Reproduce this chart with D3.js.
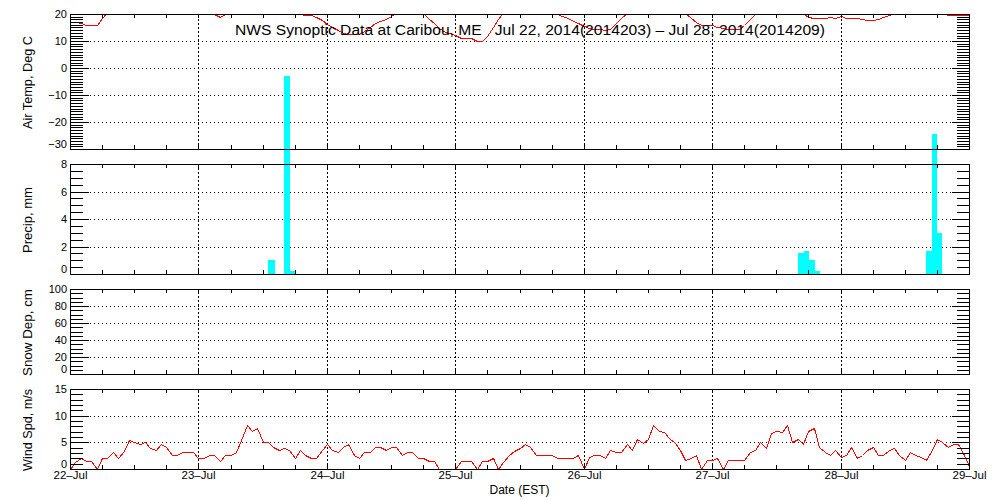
<!DOCTYPE html>
<html><head><meta charset="utf-8">
<script src="https://cdn.jsdelivr.net/npm/d3@7"></script>
<style>
body{margin:0;background:#fff}
svg{display:block;font-family:"Liberation Sans",Arial,sans-serif}
</style>
</head><body>
<svg id="chart" width="1000" height="500"></svg>
<script>
// ---------- DATA ----------
const titleText = "NWS Synoptic Data at Caribou, ME   Jul 22, 2014(2014203) \u2013 Jul 28, 2014(2014209)";
const xAxisTitle = "Date (EST)";
const dayHours = [0, 24, 48, 72, 96, 120, 144, 168];
const dayLabels = ["22\u2013Jul", "23\u2013Jul", "24\u2013Jul", "25\u2013Jul", "26\u2013Jul", "27\u2013Jul", "28\u2013Jul", "29\u2013Jul"];

// hourly air temperature (deg C), hour 0 = 22-Jul 00:00 EST
const airTemp = [
  17.0, 16.9, 16.8, 15.8, 15.8, 15.8, 18.5, 20.6, 22.0, 23.5,
  25.0, 26.0, 27.0, 27.5, 28.0, 28.0, 27.5, 26.8, 25.8, 24.0,
  22.8, 22.0, 21.4, 21.0, 20.7, 20.5, 20.3, 20.1, 19.0, 20.1,
  21.0, 22.0, 23.2, 24.5, 25.5, 26.2, 26.8, 27.0, 26.8, 25.5,
  24.0, 22.5, 21.2, 20.0, 19.8, 19.5, 18.8, 17.8, 16.3, 15.2,
  14.0, 13.0, 12.7, 12.7, 12.7, 13.8, 15.3, 16.5, 17.3, 18.0,
  19.2, 20.5, 22.0, 23.5, 24.0, 23.0, 20.5, 18.3, 16.5, 14.8,
  13.4, 12.8, 12.4, 11.0, 11.0, 11.0, 10.1, 10.1, 12.0, 15.0,
  18.0, 20.6, 22.0, 23.5, 25.0, 26.0, 27.0, 27.5, 27.0, 25.5,
  23.0, 20.0, 19.2, 18.5, 17.5, 16.5, 15.6, 14.8, 14.6, 14.5,
  13.9, 14.5, 16.5, 18.5, 20.3, 22.0, 24.0, 25.5, 26.5, 27.0,
  26.5, 25.5, 24.0, 22.5, 21.5, 20.5, 18.5, 17.2, 15.8, 15.8,
  15.8, 15.2, 14.8, 14.6, 14.6, 14.6, 16.0, 18.3, 20.1, 22.0,
  24.0, 25.5, 26.5, 27.0, 26.5, 25.0, 23.0, 20.3, 19.0, 18.4,
  18.4, 18.4, 19.0, 18.4, 19.3, 18.4, 18.4, 18.4, 18.0, 17.8,
  17.7, 18.3, 18.8, 19.5, 20.4, 22.0, 23.5, 24.5, 25.0, 24.5,
  23.5, 22.0, 21.0, 20.5, 19.6, 19.6, 19.6, 19.5, 19.5
];

// hourly wind speed (m/s)
const windSpeed = [
  0, 1.3, 2.0, 1.5, 1.5, 0, 2.0, 2.0, 3.2, 2.0,
  3.3, 5.5, 5.0, 4.7, 5.0, 4.0, 3.6, 4.7, 4.2, 2.7,
  2.7, 3.2, 3.2, 3.2, 2.0, 2.0, 2.6, 2.6, 1.5, 2.6,
  2.6, 3.2, 5.5, 8.2, 7.2, 7.7, 5.0, 5.0, 4.2, 3.6,
  4.0, 3.6, 2.0, 3.6, 2.7, 2.0, 2.0, 3.6, 4.7, 3.6,
  3.2, 4.2, 4.7, 2.6, 2.0, 3.2, 3.2, 4.2, 4.2, 3.6,
  4.2, 4.2, 2.7, 3.2, 3.2, 2.0, 2.0, 1.5, 1.5, 0,
  0, 0, 0, 1.5, 1.5, 1.5, 0, 1.5, 1.5, 2.0,
  0, 1.4, 2.7, 3.3, 3.9, 4.6, 4.2, 2.7, 2.7, 2.7,
  2.7, 2.0, 2.0, 2.0, 2.0, 2.7, 0, 2.2, 2.7, 2.7,
  2.0, 3.6, 3.2, 3.2, 4.75, 3.6, 5.6, 4.9, 5.6, 8.3,
  7.2, 6.9, 5.9, 4.9, 3.5, 1.6, 2.1, 2.7, 0, 1.6,
  1.6, 2.1, 0, 1.6, 1.6, 1.6, 1.6, 3.2, 3.6, 5.0,
  4.0, 6.75, 7.2, 6.9, 8.3, 5.0, 5.6, 4.7, 7.2, 7.7,
  4.2, 3.2, 2.7, 3.6, 2.2, 2.7, 4.2, 2.0, 2.7, 3.6,
  4.2, 2.7, 2.7, 3.6, 4.0, 2.7, 1.6, 3.2, 2.7, 2.2,
  1.6, 3.6, 5.6, 5.0, 4.2, 4.7, 4.7, 2.7, 0.5
];

// precipitation reports (hours since 22-Jul 00:00 EST, mm)
const precipStart  = [36.96, 39.9, 41.2, 136.1, 137.1, 138.1, 139.2, 160.0, 161.0, 162.1];
const precipEnd    = [38.27, 41.2, 42.2, 137.1, 138.1, 139.2, 140.1, 161.0, 162.1, 163.0];
const precipAmount = [1.0, 14.4, 0.2, 1.5, 1.7, 1.0, 0.2, 1.7, 10.2, 3.0];

// snow depth: no reports in the period
const snowDepth = [];

// axis tick values
const tempMajor = [-30, -20, -10, 0, 10, 20];
const precipMajor = [0, 2, 4, 6, 8];
const snowMajor = [0, 20, 40, 60, 80, 100];
const windMajor = [0, 5, 10, 15];

// ---------- LAYOUT ----------
const svg = d3.select("#chart");
const X0 = 70, X1 = 969;
const hours = d3.range(0, 169);
const x = d3.scaleLinear().domain([0, 168]).rangeRound([X0, X1]);

const panels = [
  {key: "temp",   label: "Air Temp, Deg C", labelLen: 93, top: 14,  bottom: 149, domain: [-30, 20], majors: tempMajor,   minorStep: 1},
  {key: "precip", label: "Precip, mm",      labelLen: 66, top: 164, bottom: 274, domain: [0, 8],     majors: precipMajor, minorStep: 0.5},
  {key: "snow",   label: "Snow Dep, cm",    labelLen: 87, top: 289, bottom: 374, domain: [0, 100],   majors: snowMajor,   minorStep: 5},
  {key: "wind",   label: "Wind Spd, m/s",   labelLen: 82, top: 389, bottom: 469, domain: [0, 15],    majors: windMajor,   minorStep: 1}
];
panels.forEach(p => {
  p.y = d3.scaleLinear().domain(p.domain).rangeRound([p.bottom, p.top]);
  p.minors = d3.range(p.domain[0], p.domain[1] + p.minorStep / 2, p.minorStep);
});
const P = Object.fromEntries(panels.map(p => [p.key, p]));

const gridLayer = svg.append("g");
const dataLayer = svg.append("g");
const axisLayer = svg.append("g");

const defs = svg.append("defs");

// ---------- GRIDS ----------
panels.forEach(p => {
  const interior = p.majors.slice(1, -1);
  gridLayer.append("g")
    .attr("transform", `translate(${X0},0)`)
    .call(d3.axisLeft(p.y).tickValues(interior).tickSize(-(X1 - X0)).tickFormat(""))
    .call(g => g.select(".domain").remove())
    .call(g => g.selectAll("line").attr("stroke", "#000").attr("stroke-dasharray", "1,3").attr("shape-rendering", "crispEdges"));
  gridLayer.append("g")
    .attr("transform", `translate(0,${p.bottom})`)
    .call(d3.axisBottom(x).tickValues(dayHours.slice(1, -1)).tickSize(-(p.bottom - p.top)).tickFormat(""))
    .call(g => g.select(".domain").remove())
    .call(g => g.selectAll("line").attr("stroke", "#000").attr("stroke-dasharray", "2,2").attr("shape-rendering", "crispEdges"));
});

// ---------- DATA MARKS ----------
// precipitation bars (drawn unclipped, as in the original)
const yP = P.precip.y;
dataLayer.append("g").selectAll("rect")
  .data(precipAmount.map((v, i) => ({v, s: precipStart[i], e: precipEnd[i]})))
  .join("rect")
  .attr("x", d => x(d.s))
  .attr("width", d => Math.max(1, x(d.e) - x(d.s)))
  .attr("y", d => yP(d.v))
  .attr("height", d => yP(0) - yP(d.v))
  .attr("fill", "#00ffff")
  .attr("shape-rendering", "crispEdges");

// air temperature line (clipped to panel)
defs.append("clipPath").attr("id", "clipTemp")
  .append("rect").attr("x", X0).attr("y", P.temp.top + 0.5)
  .attr("width", X1 - X0 + 1).attr("height", P.temp.bottom - P.temp.top);
dataLayer.append("path")
  .datum(airTemp)
  .attr("clip-path", "url(#clipTemp)")
  .attr("fill", "none").attr("stroke", "#ff0000").attr("stroke-width", 1)
  .attr("shape-rendering", "crispEdges")
  .attr("d", d3.line().x((d, i) => x(hours[i]) + 0.5).y(d => P.temp.y(d) + 0.5));

// snow depth (no data)
dataLayer.append("path")
  .datum(snowDepth)
  .attr("fill", "none").attr("stroke", "#ff0000")
  .attr("d", d3.line().x((d, i) => x(i)).y(d => P.snow.y(d)));

// wind speed line
defs.append("clipPath").attr("id", "clipWind")
  .append("rect").attr("x", X0).attr("y", P.wind.top)
  .attr("width", X1 - X0 + 1).attr("height", P.wind.bottom - P.wind.top + 1);
dataLayer.append("path")
  .datum(windSpeed)
  .attr("clip-path", "url(#clipWind)")
  .attr("fill", "none").attr("stroke", "#ff0000").attr("stroke-width", 1)
  .attr("shape-rendering", "crispEdges")
  .attr("d", d3.line().x((d, i) => x(hours[i]) + 0.5).y(d => P.wind.y(d) + 0.5));

// ---------- AXES & FRAMES ----------
const sixHours = d3.range(0, 169, 6);
panels.forEach((p, idx) => {
  // left minor ticks
  axisLayer.append("g").attr("transform", `translate(${X0},0)`)
    .call(d3.axisLeft(p.y).tickValues(p.minors).tickSize(-13).tickFormat(""))
    .call(g => g.select(".domain").remove());
  // left major ticks + labels
  const gl = axisLayer.append("g").attr("transform", `translate(${X0},0)`)
    .call(d3.axisLeft(p.y).tickValues(p.majors).tickSize(-19).tickPadding(3).tickFormat(d3.format("d")))
    .call(g => g.select(".domain").remove());
  gl.selectAll("text").attr("font-size", 11).attr("font-family", "Liberation Sans, Arial, sans-serif").attr("fill", "#000");
  gl.selectAll(".tick").filter(d => d === p.domain[0]).select("text").attr("dy", "-0.1em");
  // right minor + major ticks
  axisLayer.append("g").attr("transform", `translate(${X1 + 1},0)`)
    .call(d3.axisRight(p.y).tickValues(p.minors).tickSize(-13).tickFormat(""))
    .call(g => g.select(".domain").remove());
  axisLayer.append("g").attr("transform", `translate(${X1 + 1},0)`)
    .call(d3.axisRight(p.y).tickValues(p.majors).tickSize(-18).tickFormat(""))
    .call(g => g.select(".domain").remove());
  // top & bottom 6-hour ticks
  axisLayer.append("g").attr("transform", `translate(0,${p.top})`)
    .call(d3.axisTop(x).tickValues(sixHours).tickSize(-4).tickFormat(""))
    .call(g => g.select(".domain").remove());
  axisLayer.append("g").attr("transform", `translate(0,${p.bottom})`)
    .call(d3.axisBottom(x).tickValues(sixHours).tickSize(-4).tickFormat(""))
    .call(g => g.select(".domain").remove());
  // frame
  axisLayer.append("rect")
    .attr("x", X0 + 0.5).attr("y", p.top + 0.5)
    .attr("width", X1 - X0).attr("height", p.bottom - p.top)
    .attr("fill", "none").attr("stroke", "#000").attr("stroke-width", 1)
    .attr("shape-rendering", "crispEdges");
  // y-axis title
  const cy = (p.top + p.bottom) / 2 + 1;
  axisLayer.append("text")
    .attr("transform", `translate(32,${cy}) rotate(-90)`)
    .attr("text-anchor", "middle")
    .attr("font-size", 13)
    .attr("textLength", p.labelLen).attr("lengthAdjust", "spacingAndGlyphs")
    .attr("fill", "#000")
    .text(p.label);
});
axisLayer.selectAll("line").attr("stroke", "#000").attr("shape-rendering", "crispEdges");

// day labels under the bottom panel
const gx = axisLayer.append("g").attr("transform", `translate(0,${P.wind.bottom})`)
  .call(d3.axisBottom(x).tickValues(dayHours).tickSize(0).tickPadding(2).tickFormat((d, i) => dayLabels[i]))
  .call(g => g.select(".domain").remove());
gx.selectAll("text").attr("font-size", 11.5).attr("font-family", "Liberation Sans, Arial, sans-serif")
  .attr("fill", "#000").attr("dy", null).attr("y", 10);

// x-axis title
axisLayer.append("text")
  .attr("x", (X0 + X1) / 2).attr("y", 494)
  .attr("text-anchor", "middle").attr("font-size", 12).attr("fill", "#000")
  .text(xAxisTitle);

// chart title
axisLayer.append("text")
  .attr("x", 235).attr("y", 35)
  .attr("font-size", 14).attr("fill", "#000")
  .attr("textLength", 590).attr("lengthAdjust", "spacingAndGlyphs")
  .attr("xml:space", "preserve")
  .style("white-space", "pre")
  .text(titleText);
</script>
</body></html>
